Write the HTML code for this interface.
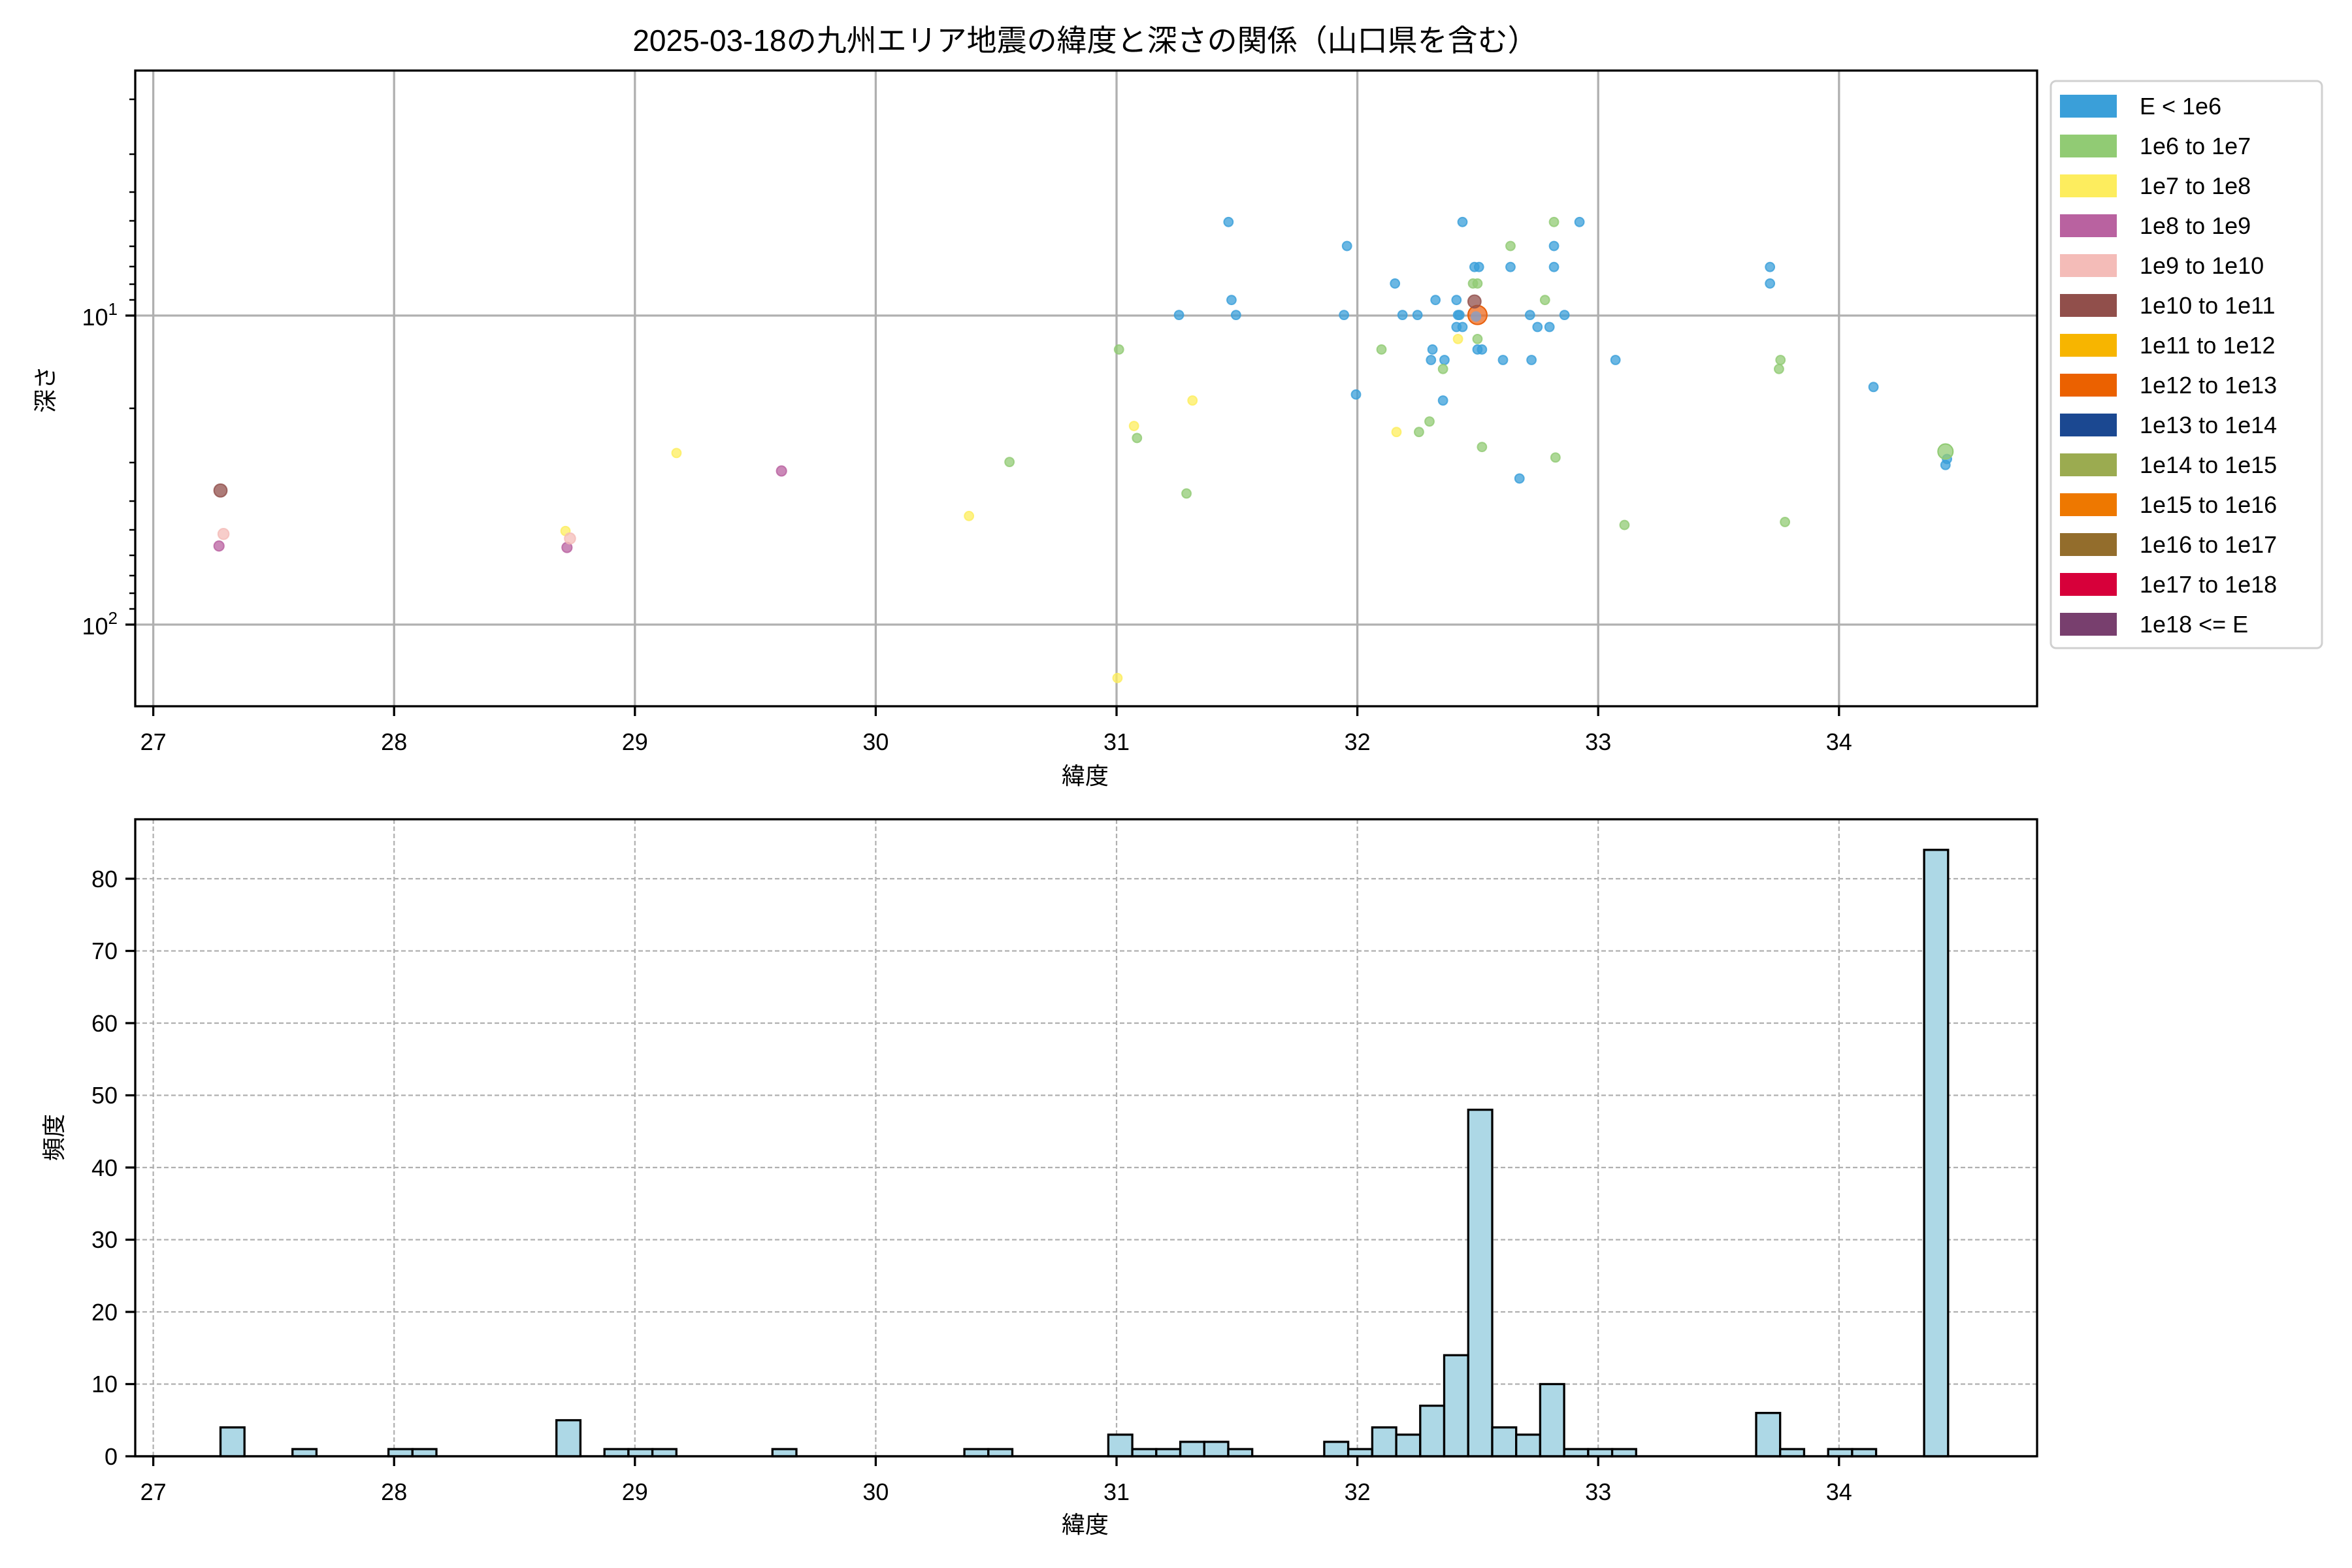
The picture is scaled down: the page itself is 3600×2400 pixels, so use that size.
<!DOCTYPE html>
<html><head><meta charset="utf-8"><style>
html,body{margin:0;padding:0;background:#fff}
svg{display:block}
text{font-family:"Liberation Sans","Noto Sans CJK JP",sans-serif;fill:#000}
</style></head><body>
<svg width="3600" height="2400" viewBox="0 0 3600 2400" xmlns="http://www.w3.org/2000/svg">
<rect width="3600" height="2400" fill="#fff"/>
<text x="1661" y="78" font-size="46" text-anchor="middle">2025-03-18の九州エリア地震の緯度と深さの関係（山口県を含む）</text>

<!-- TOP PLOT -->
<g stroke="#b0b0b0" stroke-width="3.3">
<line x1="234.6" y1="108" x2="234.6" y2="1081"/><line x1="603.2" y1="108" x2="603.2" y2="1081"/>
<line x1="971.8" y1="108" x2="971.8" y2="1081"/><line x1="1340.4" y1="108" x2="1340.4" y2="1081"/>
<line x1="1709" y1="108" x2="1709" y2="1081"/><line x1="2077.6" y1="108" x2="2077.6" y2="1081"/>
<line x1="2446.2" y1="108" x2="2446.2" y2="1081"/><line x1="2814.8" y1="108" x2="2814.8" y2="1081"/>
<line x1="207" y1="483" x2="3118" y2="483"/><line x1="207" y1="956" x2="3118" y2="956"/>
</g>

<g transform="scale(2.2959)" stroke-width="0.9" fill-opacity="0.75">
<g fill="#3a9fd9" stroke="#3a9fd9" stroke-opacity="0.8">
<circle cx="819" cy="148" r="3"/><circle cx="898" cy="164" r="3"/><circle cx="930" cy="189" r="3"/><circle cx="821" cy="200" r="3"/><circle cx="824" cy="210" r="3"/><circle cx="786" cy="210" r="3"/><circle cx="896" cy="210" r="3"/><circle cx="935" cy="210" r="3"/><circle cx="945" cy="210" r="3"/><circle cx="957" cy="200" r="3"/><circle cx="971" cy="200" r="3"/><circle cx="975" cy="148" r="3"/><circle cx="983" cy="178" r="3"/><circle cx="986" cy="178" r="3"/><circle cx="973" cy="210" r="3"/><circle cx="971" cy="218" r="3"/><circle cx="975" cy="218" r="3"/><circle cx="1007" cy="178" r="3"/><circle cx="1036" cy="164" r="3"/><circle cx="1036" cy="178" r="3"/><circle cx="1053" cy="148" r="3"/><circle cx="1043" cy="210" r="3"/><circle cx="1020" cy="210" r="3"/><circle cx="1025" cy="218" r="3"/><circle cx="1033" cy="218" r="3"/><circle cx="1002" cy="240" r="3"/><circle cx="1021" cy="240" r="3"/><circle cx="954" cy="240" r="3"/><circle cx="955" cy="233" r="3"/><circle cx="963" cy="240" r="3"/><circle cx="962" cy="267" r="3"/><circle cx="985" cy="233" r="3"/><circle cx="988" cy="233" r="3"/><circle cx="904" cy="263" r="3"/><circle cx="1013" cy="319" r="3"/><circle cx="1077" cy="240" r="3"/><circle cx="1180" cy="178" r="3"/><circle cx="1180" cy="189" r="3"/><circle cx="1249" cy="258" r="3"/><circle cx="1297" cy="310" r="3"/><circle cx="1298" cy="306" r="3"/><circle cx="972" cy="210" r="3"/>
</g>
<g fill="#91cb74" stroke="#91cb74" stroke-opacity="0.8">
<circle cx="746" cy="233" r="3"/><circle cx="673" cy="308" r="3"/><circle cx="758" cy="292" r="3"/><circle cx="791" cy="329" r="3"/><circle cx="921" cy="233" r="3"/><circle cx="982" cy="189" r="3"/><circle cx="1007" cy="164" r="3"/><circle cx="1036" cy="148" r="3"/><circle cx="1030" cy="200" r="3"/><circle cx="985" cy="226" r="3"/><circle cx="962" cy="246" r="3"/><circle cx="988" cy="298" r="3"/><circle cx="1037" cy="305" r="3"/><circle cx="1083" cy="350" r="3"/><circle cx="1190" cy="348" r="3"/><circle cx="1187" cy="240" r="3"/><circle cx="1186" cy="246" r="3"/><circle cx="953" cy="281" r="3"/><circle cx="946" cy="288" r="3"/><circle cx="985" cy="189" r="3"/>
</g>
<g fill="#fded5e" stroke="#fded5e" stroke-opacity="0.8">
<circle cx="745" cy="452" r="3"/><circle cx="646" cy="344" r="3"/><circle cx="756" cy="284" r="3"/><circle cx="795" cy="267" r="3"/><circle cx="451" cy="302" r="3"/><circle cx="377" cy="354" r="3"/><circle cx="931" cy="288" r="3"/><circle cx="972" cy="226" r="3"/>
</g>
<g fill="#b962a0" stroke="#b962a0" stroke-opacity="0.8">
<circle cx="521" cy="314" r="3.3"/><circle cx="378" cy="365" r="3.3"/><circle cx="146" cy="364" r="3.3"/>
</g>
<g fill="#f4bcb8" stroke="#f4bcb8" stroke-opacity="0.8">
<circle cx="149" cy="356" r="3.6"/><circle cx="380" cy="359" r="3.6"/>
</g>
<circle cx="1297" cy="301" r="5" fill="#91cb74" stroke="#91cb74"/>
<circle cx="985" cy="210" r="6.3" fill="#ee6a1e" stroke="#e8600c"/>
<circle cx="984" cy="211" r="3.5" fill="#7fa0d0" stroke="none"/>
<g fill="#914f4b" stroke="#914f4b" stroke-opacity="0.8">
<circle cx="147" cy="327" r="4.3"/><circle cx="983" cy="201" r="4.3"/>
</g>
</g>

<g stroke="#000" stroke-width="3.3" fill="none">
<rect x="207" y="108" width="2911" height="973"/>
<line x1="234.6" y1="1081" x2="234.6" y2="1096"/><line x1="603.2" y1="1081" x2="603.2" y2="1096"/>
<line x1="971.8" y1="1081" x2="971.8" y2="1096"/><line x1="1340.4" y1="1081" x2="1340.4" y2="1096"/>
<line x1="1709" y1="1081" x2="1709" y2="1096"/><line x1="2077.6" y1="1081" x2="2077.6" y2="1096"/>
<line x1="2446.2" y1="1081" x2="2446.2" y2="1096"/><line x1="2814.8" y1="1081" x2="2814.8" y2="1096"/>
<line x1="192" y1="483" x2="207" y2="483"/><line x1="192" y1="956" x2="207" y2="956"/>
</g>
<g stroke="#000" stroke-width="2.5">
<line x1="198" y1="152" x2="207" y2="152"/><line x1="198" y1="236" x2="207" y2="236"/><line x1="198" y1="294" x2="207" y2="294"/><line x1="198" y1="338" x2="207" y2="338"/><line x1="198" y1="377" x2="207" y2="377"/><line x1="198" y1="408" x2="207" y2="408"/><line x1="198" y1="435" x2="207" y2="435"/><line x1="198" y1="459" x2="207" y2="459"/>
<line x1="198" y1="625" x2="207" y2="625"/><line x1="198" y1="708" x2="207" y2="708"/><line x1="198" y1="767" x2="207" y2="767"/><line x1="198" y1="811" x2="207" y2="811"/><line x1="198" y1="850" x2="207" y2="850"/><line x1="198" y1="881" x2="207" y2="881"/><line x1="198" y1="908" x2="207" y2="908"/><line x1="198" y1="932" x2="207" y2="932"/>
</g>
<g font-size="36" text-anchor="middle">
<text x="234.6" y="1148">27</text><text x="603.2" y="1148">28</text><text x="971.8" y="1148">29</text><text x="1340.4" y="1148">30</text>
<text x="1709" y="1148">31</text><text x="2077.6" y="1148">32</text><text x="2446.2" y="1148">33</text><text x="2814.8" y="1148">34</text>
</g>
<text x="180" y="498" font-size="36" text-anchor="end">10<tspan font-size="26" dy="-16">1</tspan></text>
<text x="180" y="971" font-size="36" text-anchor="end">10<tspan font-size="26" dy="-16">2</tspan></text>
<text x="1661" y="1200" font-size="36" text-anchor="middle">緯度</text>
<text transform="translate(82,596) rotate(-90)" font-size="36" text-anchor="middle">深さ</text>

<!-- LEGEND -->
<rect x="3139" y="124" width="415" height="868" rx="8" fill="#fff" stroke="#d0d0d0" stroke-width="3"/>
<g>
<rect x="3153" y="145" width="87" height="35" fill="#3a9fd9"/>
<rect x="3153" y="206" width="87" height="35" fill="#91cb74"/>
<rect x="3153" y="267" width="87" height="35" fill="#fded5e"/>
<rect x="3153" y="328" width="87" height="35" fill="#b962a0"/>
<rect x="3153" y="389" width="87" height="35" fill="#f4bcb8"/>
<rect x="3153" y="450" width="87" height="35" fill="#914f4b"/>
<rect x="3153" y="511" width="87" height="35" fill="#f7b500"/>
<rect x="3153" y="572" width="87" height="35" fill="#eb6100"/>
<rect x="3153" y="633" width="87" height="35" fill="#1b4891"/>
<rect x="3153" y="694" width="87" height="35" fill="#9bab50"/>
<rect x="3153" y="755" width="87" height="35" fill="#ee7800"/>
<rect x="3153" y="816" width="87" height="35" fill="#936d2c"/>
<rect x="3153" y="877" width="87" height="35" fill="#d7003a"/>
<rect x="3153" y="938" width="87" height="35" fill="#783f6e"/>
</g>
<g font-size="36">
<text x="3275" y="175">E &lt; 1e6</text><text x="3275" y="236">1e6 to 1e7</text><text x="3275" y="297">1e7 to 1e8</text><text x="3275" y="358">1e8 to 1e9</text><text x="3275" y="419">1e9 to 1e10</text><text x="3275" y="480">1e10 to 1e11</text><text x="3275" y="541">1e11 to 1e12</text><text x="3275" y="602">1e12 to 1e13</text><text x="3275" y="663">1e13 to 1e14</text><text x="3275" y="724">1e14 to 1e15</text><text x="3275" y="785">1e15 to 1e16</text><text x="3275" y="846">1e16 to 1e17</text><text x="3275" y="907">1e17 to 1e18</text><text x="3275" y="968">1e18 &lt;= E</text>
</g>

<!-- BOTTOM PLOT -->
<g stroke="#b0b0b0" stroke-width="2.2" stroke-dasharray="7,4">
<line x1="234.6" y1="1254" x2="234.6" y2="2229"/><line x1="603.2" y1="1254" x2="603.2" y2="2229"/>
<line x1="971.8" y1="1254" x2="971.8" y2="2229"/><line x1="1340.4" y1="1254" x2="1340.4" y2="2229"/>
<line x1="1709" y1="1254" x2="1709" y2="2229"/><line x1="2077.6" y1="1254" x2="2077.6" y2="2229"/>
<line x1="2446.2" y1="1254" x2="2446.2" y2="2229"/><line x1="2814.8" y1="1254" x2="2814.8" y2="2229"/>
<line x1="207" y1="2118.5" x2="3118" y2="2118.5"/><line x1="207" y1="2008" x2="3118" y2="2008"/>
<line x1="207" y1="1897.5" x2="3118" y2="1897.5"/><line x1="207" y1="1787" x2="3118" y2="1787"/>
<line x1="207" y1="1676.5" x2="3118" y2="1676.5"/><line x1="207" y1="1566" x2="3118" y2="1566"/>
<line x1="207" y1="1455.5" x2="3118" y2="1455.5"/><line x1="207" y1="1345" x2="3118" y2="1345"/>
</g>
<g id="bars" fill="#add8e6" stroke="#000" stroke-width="3.3"></g>
<g stroke="#000" stroke-width="3.3" fill="none">
<rect x="207" y="1254" width="2911" height="975"/>
<line x1="234.6" y1="2229" x2="234.6" y2="2244"/><line x1="603.2" y1="2229" x2="603.2" y2="2244"/>
<line x1="971.8" y1="2229" x2="971.8" y2="2244"/><line x1="1340.4" y1="2229" x2="1340.4" y2="2244"/>
<line x1="1709" y1="2229" x2="1709" y2="2244"/><line x1="2077.6" y1="2229" x2="2077.6" y2="2244"/>
<line x1="2446.2" y1="2229" x2="2446.2" y2="2244"/><line x1="2814.8" y1="2229" x2="2814.8" y2="2244"/>
<line x1="192" y1="2229" x2="207" y2="2229"/><line x1="192" y1="2118.5" x2="207" y2="2118.5"/><line x1="192" y1="2008" x2="207" y2="2008"/><line x1="192" y1="1897.5" x2="207" y2="1897.5"/><line x1="192" y1="1787" x2="207" y2="1787"/><line x1="192" y1="1676.5" x2="207" y2="1676.5"/><line x1="192" y1="1566" x2="207" y2="1566"/><line x1="192" y1="1455.5" x2="207" y2="1455.5"/><line x1="192" y1="1345" x2="207" y2="1345"/>
</g>
<g font-size="36" text-anchor="middle">
<text x="234.6" y="2296">27</text><text x="603.2" y="2296">28</text><text x="971.8" y="2296">29</text><text x="1340.4" y="2296">30</text>
<text x="1709" y="2296">31</text><text x="2077.6" y="2296">32</text><text x="2446.2" y="2296">33</text><text x="2814.8" y="2296">34</text>
</g>
<g font-size="36" text-anchor="end">
<text x="180" y="2242">0</text><text x="180" y="2131">10</text><text x="180" y="2021">20</text><text x="180" y="1910">30</text><text x="180" y="1800">40</text><text x="180" y="1689">50</text><text x="180" y="1579">60</text><text x="180" y="1468">70</text><text x="180" y="1358">80</text>
</g>
<text x="1661" y="2346" font-size="36" text-anchor="middle">緯度</text>
<text transform="translate(95,1741) rotate(-90)" font-size="36" text-anchor="middle">頻度</text>

<g fill="#add8e6" stroke="#000" stroke-width="3.3">
<rect x="337.5" y="2184.8" width="36.7" height="44.2"/>
<rect x="447.7" y="2218" width="36.7" height="11"/>
<rect x="594.6" y="2218" width="36.7" height="11"/><rect x="631.3" y="2218" width="36.7" height="11"/>
<rect x="851.7" y="2173.8" width="36.7" height="55.2"/>
<rect x="925.2" y="2218" width="36.7" height="11"/><rect x="961.9" y="2218" width="36.7" height="11"/><rect x="998.6" y="2218" width="36.7" height="11"/>
<rect x="1182.3" y="2218" width="36.7" height="11"/>
<rect x="1476.1" y="2218" width="36.7" height="11"/><rect x="1512.8" y="2218" width="36.7" height="11"/>
<rect x="1696.4" y="2195.9" width="36.7" height="33.1"/><rect x="1733.1" y="2218" width="36.7" height="11"/><rect x="1769.8" y="2218" width="36.7" height="11"/><rect x="1806.6" y="2206.9" width="36.7" height="22.1"/><rect x="1843.3" y="2206.9" width="36.7" height="22.1"/><rect x="1880" y="2218" width="36.7" height="11"/>
<rect x="2026.9" y="2206.9" width="36.7" height="22.1"/><rect x="2063.6" y="2218" width="36.7" height="11"/><rect x="2100.4" y="2184.8" width="36.7" height="44.2"/><rect x="2137.1" y="2195.9" width="36.7" height="33.1"/><rect x="2173.8" y="2151.6" width="36.7" height="77.4"/><rect x="2210.5" y="2074.3" width="36.7" height="154.7"/><rect x="2247.3" y="1698.6" width="36.7" height="530.4"/><rect x="2284" y="2184.8" width="36.7" height="44.2"/><rect x="2320.7" y="2195.9" width="36.7" height="33.1"/><rect x="2357.4" y="2118.5" width="36.7" height="110.5"/><rect x="2394.2" y="2218" width="36.7" height="11"/><rect x="2430.9" y="2218" width="36.7" height="11"/><rect x="2467.6" y="2218" width="36.7" height="11"/>
<rect x="2688" y="2162.7" width="36.7" height="66.3"/><rect x="2724.7" y="2218" width="36.7" height="11"/>
<rect x="2798.2" y="2218" width="36.7" height="11"/><rect x="2834.9" y="2218" width="36.7" height="11"/>
<rect x="2945.1" y="1300.8" width="36.7" height="928.2"/>
</g>
<line x1="207" y1="2229" x2="3118" y2="2229" stroke="#000" stroke-width="3.3"/>
</svg>
</body></html>
